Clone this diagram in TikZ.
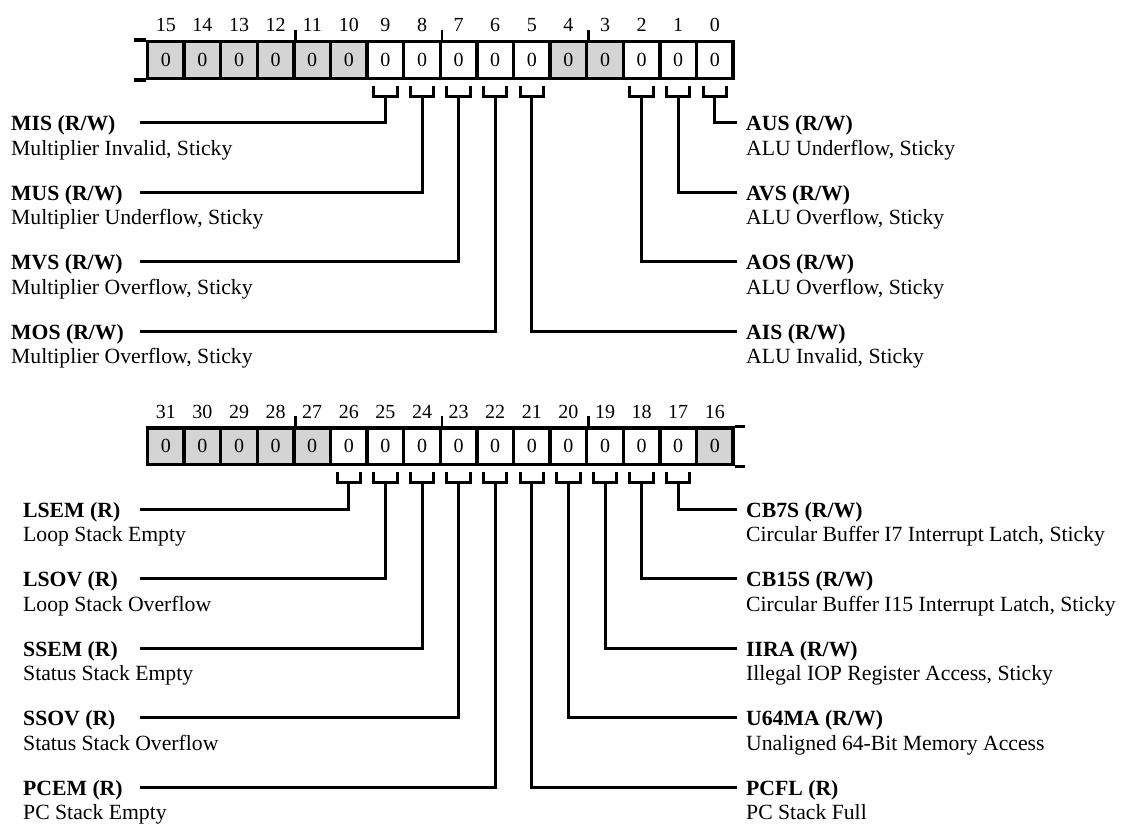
\documentclass[tikz,border=0pt]{standalone}
\usepackage{fontspec}
\setmainfont{Liberation Serif}
\newcommand\lablink[7]{%
  \coordinate (#2e) at (#5,#4);
  \node[lbl] (#2) at (#3,#4+8) {#6};
  \node[desc] (#2d) at (#3,#4+32.6) {#7};
  \draw[conn] (#1s) |- (#2e);
}
\newcommand\bracketat[2]{% #1 cell node, #2 drop
  \draw[conn] ([xshift=-11.7pt,yshift=-#2pt]#1.south) -- ++(0,10) -- ++(23.4,0) -- ++(0,-10);
  \coordinate (#1s) at ([yshift=-#2pt-10pt]#1.south);
}
\begin{document}
\begin{tikzpicture}[x=1pt,y=-1pt,
  reg/.style={line width=3.3pt},
  tick/.style={line width=2.5pt},
  cellw/.style={draw,line width=3.3pt,minimum width=36.6pt,minimum height=36.6pt,inner sep=0pt,
    font=\fontsize{20}{21}\selectfont,fill=white},
  cellg/.style={cellw,fill=black!17},
  bitnum/.style={anchor=base,inner sep=0pt,font=\fontsize{20}{21}\selectfont},
  conn/.style={line width=3pt},
  lbl/.style={anchor=base west,inner sep=0pt,font=\fontsize{21.7}{24}\selectfont\bfseries},
  desc/.style={anchor=base west,inner sep=0pt,font=\fontsize{21.7}{24}\selectfont},
]
\useasboundingbox[fill=white] (0,0) rectangle (1122,825);

% ---------- top register (bits 15..0)
\foreach \b/\s [count=\i from 0] in {15/cellg,14/cellg,13/cellg,12/cellg,11/cellg,10/cellg,9/cellw,8/cellw,7/cellw,6/cellw,5/cellw,4/cellg,3/cellg,2/cellw,1/cellw,0/cellw}{
  \node[\s] (t\b) at ({165.8+36.6*\i},60) {0};
  \node[bitnum] (tn\b) at ({165.8+36.6*\i},31.7) {\b};
}
\draw[reg] (t15.north west) -- ++(-12,0);
\draw[reg] (t15.south west) -- ++(-12,0);
\draw[tick] (t12.north east) -- ++(0,-10);
\draw[tick] (t8.north east) -- ++(0,-10);
\draw[tick] (t4.north east) -- ++(0,-10);

\foreach \b in {9,8,7,6,5,2,1,0}{\bracketat{t\b}{6.5}}

\lablink{t9}{mis}{11}{122.7}{140}{MIS (R/W)}{Multiplier Invalid, Sticky}
\lablink{t8}{mus}{11}{192.2}{140}{MUS (R/W)}{Multiplier Underflow, Sticky}
\lablink{t7}{mvs}{11}{261.7}{140}{MVS (R/W)}{Multiplier Overflow, Sticky}
\lablink{t6}{mos}{11}{331.2}{140}{MOS (R/W)}{Multiplier Overflow, Sticky}
\lablink{t0}{aus}{746}{122.7}{737}{AUS (R/W)}{ALU Underflow, Sticky}
\lablink{t1}{avs}{746}{192.2}{737}{AVS (R/W)}{ALU Overflow, Sticky}
\lablink{t2}{aos}{746}{261.7}{737}{AOS (R/W)}{ALU Overflow, Sticky}
\lablink{t5}{ais}{746}{331.2}{737}{AIS (R/W)}{ALU Invalid, Sticky}

% ---------- bottom register (bits 31..16)
\foreach \b/\s [count=\i from 0] in {31/cellg,30/cellg,29/cellg,28/cellg,27/cellg,26/cellw,25/cellw,24/cellw,23/cellw,22/cellw,21/cellw,20/cellw,19/cellw,18/cellw,17/cellw,16/cellg}{
  \node[\s] (b\b) at ({165.8+36.6*\i},446.3) {0};
  \node[bitnum] (bn\b) at ({165.8+36.6*\i},418) {\b};
}
\draw[reg] (b16.north east) -- ++(10,0);
\draw[reg] (b16.south east) -- ++(10,0);
\draw[tick] (b28.north east) -- ++(0,-10);
\draw[tick] (b24.north east) -- ++(0,-10);
\draw[tick] (b20.north east) -- ++(0,-10);

\foreach \b in {26,25,24,23,22,21,20,19,18,17}{\bracketat{b\b}{6}}

\lablink{b26}{lsem}{23}{509}{140}{LSEM (R)}{Loop Stack Empty}
\lablink{b25}{lsov}{23}{578.5}{140}{LSOV (R)}{Loop Stack Overflow}
\lablink{b24}{ssem}{23}{648}{140}{SSEM (R)}{Status Stack Empty}
\lablink{b23}{ssov}{23}{717.5}{140}{SSOV (R)}{Status Stack Overflow}
\lablink{b22}{pcem}{23}{787}{140}{PCEM (R)}{PC Stack Empty}
\lablink{b17}{cbsev}{746}{509}{737}{CB7S (R/W)}{Circular Buffer I7 Interrupt Latch, Sticky}
\lablink{b18}{cbfif}{746}{578.5}{737}{CB15S (R/W)}{Circular Buffer I15 Interrupt Latch, Sticky}
\lablink{b19}{iira}{746}{648}{737}{IIRA (R/W)}{Illegal IOP Register Access, Sticky}
\lablink{b20}{ufma}{746}{717.5}{737}{U64MA (R/W)}{Unaligned 64-Bit Memory Access}
\lablink{b21}{pcfl}{746}{787}{737}{PCFL (R)}{PC Stack Full}
\end{tikzpicture}
\end{document}
